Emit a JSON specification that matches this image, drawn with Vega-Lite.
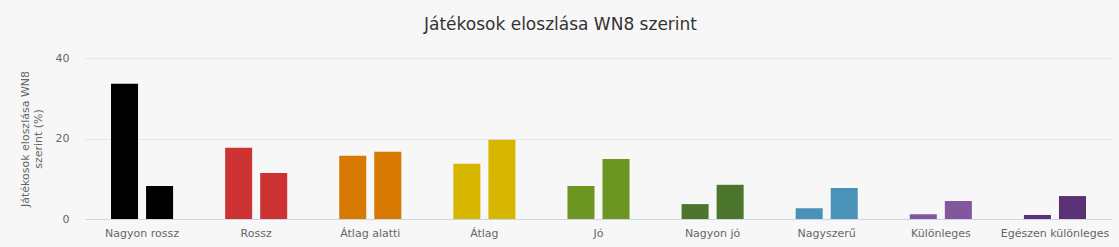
{
  "$schema": "https://vega.github.io/schema/vega-lite/v6.json",
  "autosize": {"type": "none"},
  "width": 1027,
  "height": 161,
  "padding": {"left": 85, "top": 58, "right": 7, "bottom": 28},
  "background": "#f7f7f7",
  "title": {
    "text": "Játékosok eloszlása WN8 szerint",
    "anchor": "middle",
    "dx": -38,
    "offset": 18,
    "font": "DejaVu Sans",
    "fontSize": 17,
    "fontWeight": "normal",
    "color": "#333333"
  },
  "data": {
    "values": [
      {"category": "Nagyon rossz", "series": "a", "value": 33.6},
      {"category": "Nagyon rossz", "series": "b", "value": 8.2},
      {"category": "Rossz", "series": "a", "value": 17.7},
      {"category": "Rossz", "series": "b", "value": 11.4},
      {"category": "Átlag alatti", "series": "a", "value": 15.7},
      {"category": "Átlag alatti", "series": "b", "value": 16.7},
      {"category": "Átlag", "series": "a", "value": 13.7},
      {"category": "Átlag", "series": "b", "value": 19.7},
      {"category": "Jó", "series": "a", "value": 8.2},
      {"category": "Jó", "series": "b", "value": 14.9},
      {"category": "Nagyon jó", "series": "a", "value": 3.7},
      {"category": "Nagyon jó", "series": "b", "value": 8.5},
      {"category": "Nagyszerű", "series": "a", "value": 2.7},
      {"category": "Nagyszerű", "series": "b", "value": 7.7},
      {"category": "Különleges", "series": "a", "value": 1.2},
      {"category": "Különleges", "series": "b", "value": 4.5},
      {"category": "Egészen különleges", "series": "a", "value": 1.0},
      {"category": "Egészen különleges", "series": "b", "value": 5.7}
    ]
  },
  "mark": {"type": "bar"},
  "encoding": {
    "x": {
      "field": "category",
      "type": "nominal",
      "sort": null,
      "scale": {"paddingInner": 0.456, "paddingOuter": 0.228},
      "axis": {
        "title": null,
        "labelAngle": 0,
        "ticks": false,
        "labelPadding": 8,
        "labelFont": "DejaVu Sans",
        "labelFontSize": 11,
        "labelColor": "#666666",
        "domainColor": "#ccd6eb",
        "grid": false
      }
    },
    "xOffset": {
      "field": "series",
      "type": "nominal",
      "scale": {"paddingInner": 0.229, "paddingOuter": 0}
    },
    "y": {
      "field": "value",
      "type": "quantitative",
      "scale": {"domain": [0, 40], "nice": false},
      "axis": {
        "values": [0, 20, 40],
        "title": ["Játékosok eloszlása WN8", "szerint (%)"],
        "titleFont": "DejaVu Sans",
        "titleFontSize": 11,
        "titleFontWeight": "normal",
        "titleColor": "#666666",
        "titlePadding": 12,
        "labelFont": "DejaVu Sans",
        "labelFontSize": 11,
        "labelColor": "#666666",
        "labelPadding": 16,
        "ticks": false,
        "domain": false,
        "gridColor": "#e6e6e6"
      }
    },
    "color": {
      "field": "category",
      "type": "nominal",
      "sort": null,
      "legend": null,
      "scale": {
        "domain": ["Nagyon rossz", "Rossz", "Átlag alatti", "Átlag", "Jó", "Nagyon jó", "Nagyszerű", "Különleges", "Egészen különleges"],
        "range": ["#000000", "#cd3333", "#d77900", "#d7b600", "#6d9521", "#4c762e", "#4a92b7", "#83579d", "#5a3175"]
      }
    }
  },
  "config": {
    "view": {"stroke": null}
  }
}
